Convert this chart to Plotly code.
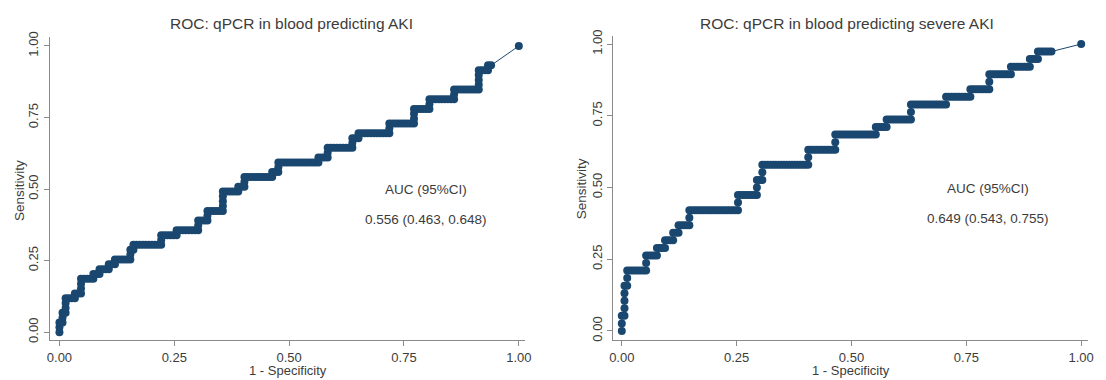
import numpy as np
import plotly.graph_objects as go

# ---- Data ----
# ROC curves encoded as run lengths of successive thresholds:
# each run = some true-positive steps (up) followed by false-positive steps (right);
# the final point (1,1) is reached through a tied block of observations.
aki_n_pos = 59
aki_n_neg = 149
aki_up = [2, 2, 3, 1, 3, 1, 1, 1, 1, 2, 1, 2, 1, 2, 2, 4, 1, 2, 1, 2, 1, 2, 2, 1, 2, 3, 2, 2, 4, 1]
aki_right = [1, 1, 3, 2, 4, 2, 3, 2, 5, 1, 9, 5, 7, 3, 5, 5, 2, 9, 2, 13, 3, 8, 2, 10, 8, 5, 8, 8, 3, 1]

sev_n_pos = 38
sev_n_neg = 170
sev_up = [2, 4, 2, 2, 1, 1, 1, 1, 2, 2, 2, 2, 2, 2, 1, 1, 2, 1, 1, 2, 1, 1, 1]
sev_right = [1, 1, 7, 4, 3, 3, 2, 4, 18, 7, 2, 17, 10, 15, 4, 9, 13, 9, 7, 8, 7, 3, 5]

titles = ["ROC: qPCR in blood predicting AKI", "ROC: qPCR in blood predicting severe AKI"]
auc_labels = ["0.556 (0.463, 0.648)", "0.649 (0.543, 0.755)"]
tick_vals = [0, 0.25, 0.5, 0.75, 1.0]
tick_text = ["0.00", "0.25", "0.50", "0.75", "1.00"]


def roc_points(ups, rights, n_pos, n_neg):
    fp, tp = [0], [0]
    f = t = 0
    for u, r in zip(ups, rights):
        for _ in range(u):
            t += 1
            fp.append(f)
            tp.append(t)
        for _ in range(r):
            f += 1
            fp.append(f)
            tp.append(t)
    fp.append(n_neg)
    tp.append(n_pos)
    return np.array(fp) / n_neg, np.array(tp) / n_pos


W, H = 1106, 380
navy = "#1a476f"
grey_line = "#8a8a8a"
txt = "#3c3c3c"
FONT = "Liberation Sans, Arial, sans-serif"

fig = go.Figure()
curves = [roc_points(aki_up, aki_right, aki_n_pos, aki_n_neg),
          roc_points(sev_up, sev_right, sev_n_pos, sev_n_neg)]
for i, (fx, ty) in enumerate(curves):
    fig.add_trace(go.Scatter(
        x=fx, y=ty, mode="lines+markers",
        line=dict(color=navy, width=1),
        marker=dict(color=navy, size=8),
        xaxis="x" if i == 0 else "x2",
        yaxis="y" if i == 0 else "y2",
        showlegend=False, hoverinfo="skip"))

axis_common = dict(showline=True, linecolor=grey_line, linewidth=1,
                   ticks="outside", ticklen=5, tickcolor=grey_line,
                   showgrid=False, zeroline=False,
                   tickvals=tick_vals, ticktext=tick_text,
                   tickfont=dict(size=13, color=txt, family=FONT))

fig.update_layout(
    width=W, height=H,
    margin=dict(l=0, r=0, t=0, b=0),
    paper_bgcolor="white", plot_bgcolor="white",
    font=dict(family=FONT),
    xaxis=dict(domain=[46 / W, 526 / W], range=[-10 / 464, 470 / 464], anchor="y", **axis_common),
    yaxis=dict(domain=[1 - 342 / H, 1 - 31 / H], range=[-8 / 294, 303 / 294], anchor="x",
               tickangle=-90, **axis_common),
    xaxis2=dict(domain=[615 / W, 1095 / W], range=[-9 / 464, 471 / 464], anchor="y2", **axis_common),
    yaxis2=dict(domain=[1 - 342 / H, 1 - 30 / H], range=[-9.3 / 294.7, 302.7 / 294.7], anchor="x2",
                tickangle=-90, **axis_common),
)

ann = []
# titles
for xc, t in zip([290, 851], titles):
    ann.append(dict(text=t, x=xc / W, y=1 - 17 / H, xref="paper", yref="paper",
                    showarrow=False, xanchor="center", yanchor="middle",
                    font=dict(size=15.5, color=txt, family=FONT)))
# axis titles
for xc in [287, 856]:
    ann.append(dict(text="1 - Specificity", x=xc / W, y=1 - 373.5 / H, xref="paper", yref="paper",
                    showarrow=False, xanchor="center", yanchor="middle",
                    font=dict(size=13, color=txt, family=FONT)))
for xc, yc in [(15, 188), (583, 187)]:
    ann.append(dict(text="Sensitivity", x=xc / W, y=1 - yc / H, xref="paper", yref="paper",
                    showarrow=False, xanchor="center", yanchor="middle", textangle=-90,
                    font=dict(size=13.5, color=txt, family=FONT)))
# AUC text
for i, (xr, yr) in enumerate([("x", "y"), ("x2", "y2")]):
    ann.append(dict(text="AUC (95%CI)", x=0.797, y=0.497, xref=xr, yref=yr,
                    showarrow=False, xanchor="center", yanchor="middle",
                    font=dict(size=13.5, color=txt, family=FONT)))
    ann.append(dict(text=auc_labels[i], x=0.797, y=0.392, xref=xr, yref=yr,
                    showarrow=False, xanchor="center", yanchor="middle",
                    font=dict(size=13.5, color=txt, family=FONT)))
fig.update_layout(annotations=ann)

fig.write_html("out.html", config={"displayModeBar": False},
               post_script="document.body.style.margin='0px';document.body.style.overflow='hidden';")
